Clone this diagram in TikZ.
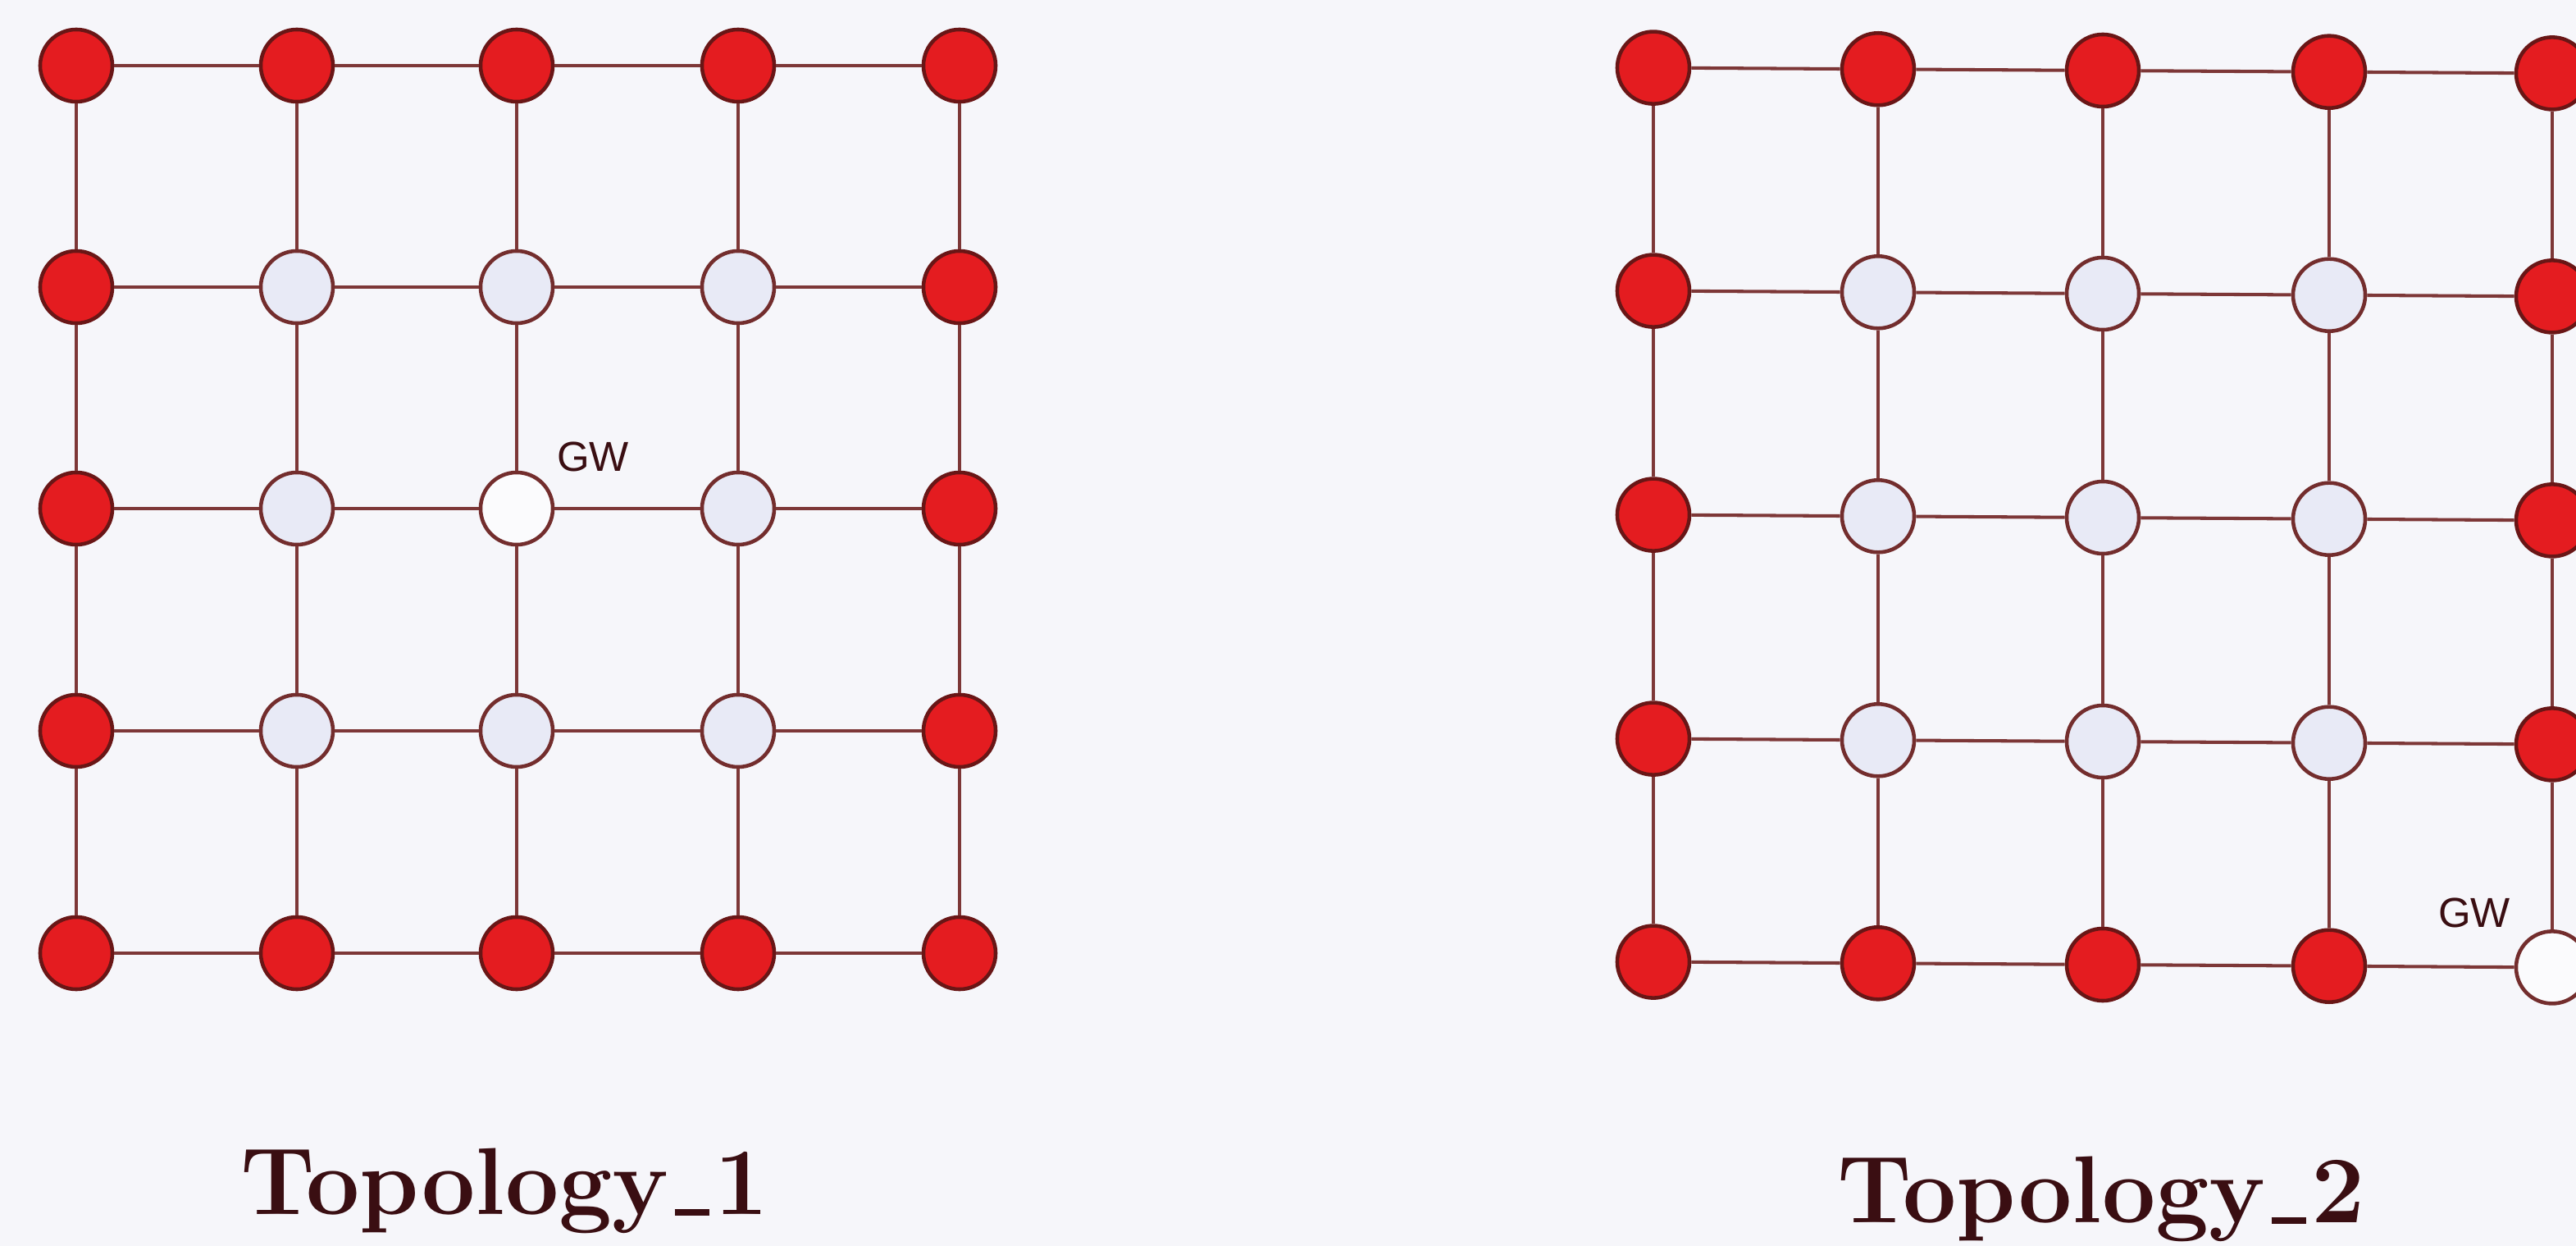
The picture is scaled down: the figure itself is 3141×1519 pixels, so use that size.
\documentclass[tikz,border=0pt]{standalone}
\usepackage{fontspec}
\newfontfamily\gwfont{Liberation Sans}
\definecolor{bgc}{RGB}{246,246,250}
\definecolor{edgec}{RGB}{125,55,55}
\definecolor{redf}{RGB}{228,28,32}
\definecolor{redd}{RGB}{105,22,22}
\definecolor{lightf}{RGB}{232,234,246}
\definecolor{lightd}{RGB}{115,45,45}
\definecolor{whitef}{RGB}{251,251,253}
\definecolor{textc}{RGB}{58,14,18}
\newcommand{\myunder}{\kern0.06em\rule[-0.02em]{0.36em}{0.07em}\kern0.06em}
\begin{document}
\begin{tikzpicture}[x=0.01cm,y=-0.01cm,
  vtx/.style={circle,minimum size=0.88cm,inner sep=0pt,line width=1.3pt},
  link/.style={draw=edgec,line width=1.15pt},
  gwlab/.style={font=\gwfont\fontsize{14.5}{16}\selectfont,text=textc,inner sep=0pt},
  title/.style={font=\fontsize{33}{38}\selectfont\bfseries,text=textc,inner sep=0pt,anchor=base}]
\fill[bgc] (0,0) rectangle (3141,1519);
\useasboundingbox (0,0) rectangle (3141,1519);
% Topology 1 nodes
\foreach \i/\c in {1/93,2/362,3/630,4/900,5/1170}{
  \foreach \j/\r in {1/80,2/350,3/620,4/891,5/1162}{
    \pgfmathtruncatemacro\inn{(\i>1)&&(\i<5)&&(\j>1)&&(\j<5)}
    \pgfmathtruncatemacro\isgw{(\i==3)&&(\j==3)}
    \ifnum\inn=1 \def\fc{lightf}\def\dc{lightd}\else\def\fc{redf}\def\dc{redd}\fi
    \ifnum\isgw=1 \def\fc{whitef}\def\dc{lightd}\fi
    \node[vtx,fill=\fc,draw=\dc] (a-\i-\j) at (\c,\r) {};
  }
}
% Topology 2 nodes
\foreach \i/\c in {1/2016,2/2290,3/2564,4/2840,5/3112}{
  \foreach \j/\r in {1/86,2/358,3/631,4/904,5/1176}{
    \pgfmathtruncatemacro\inn{(\i>1)&&(\i<5)&&(\j>1)&&(\j<5)}
    \pgfmathtruncatemacro\isgw{(\i==5)&&(\j==5)}
    \pgfmathsetmacro\yy{\r+(\i-3)*1.7}
    \ifnum\inn=1 \def\fc{lightf}\def\dc{lightd}\else\def\fc{redf}\def\dc{redd}\fi
    \ifnum\isgw=1 \def\fc{whitef}\def\dc{lightd}\fi
    \node[vtx,fill=\fc,draw=\dc] (b-\i-\j) at (\c,\yy) {};
  }
}
% edges
\foreach \g in {a,b}{
  \foreach \i in {1,...,5}{
    \foreach \j [evaluate=\j as \k using {int(\j+1)}] in {1,...,4}{
      \draw[link] (\g-\i-\j) -- (\g-\i-\k);
      \draw[link] (\g-\j-\i) -- (\g-\k-\i);
    }
  }
}
% labels
\node[gwlab] (gw1) at (723,557) {GW};
\node[gwlab] (gw2) at (3017,1113) {GW};
\node[title] (t1) at (615,1480) {Topology\myunder 1};
\node[title] (t2) at (2562,1490) {Topology\myunder 2};
\end{tikzpicture}
\end{document}
